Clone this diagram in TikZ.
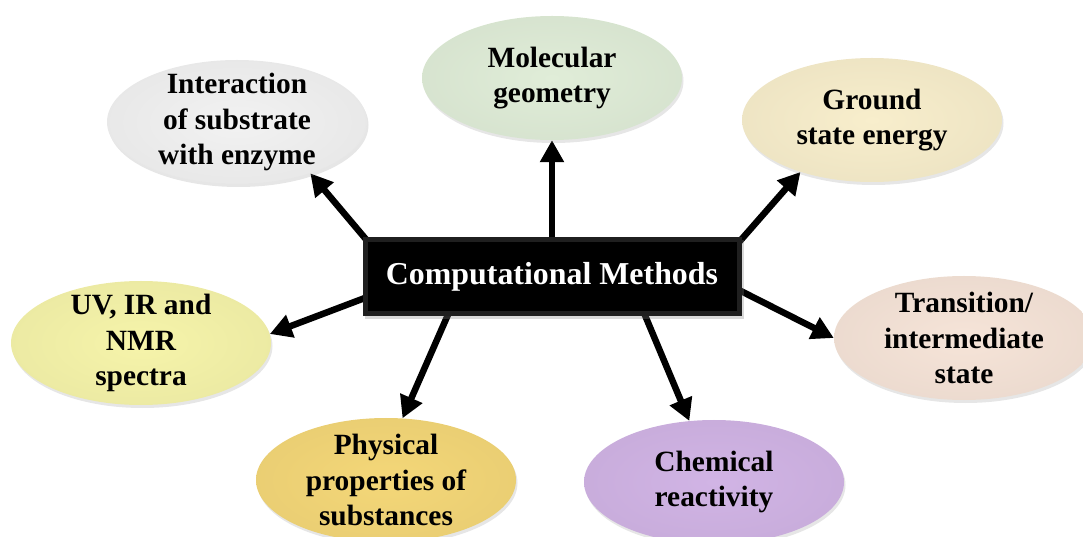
\documentclass[tikz,border=0pt]{standalone}
\usepackage{fontspec}
\setmainfont{Liberation Serif}
\usetikzlibrary{arrows.meta,shapes.geometric,shadows,calc}
\pgfdeclarelayer{bg}
\pgfsetlayers{bg,main}
\definecolor{cinter}{RGB}{242,242,242}
\definecolor{cmol}{RGB}{224,237,216}
\definecolor{cground}{RGB}{248,238,204}
\definecolor{cuv}{RGB}{246,244,170}
\definecolor{ctrans}{RGB}{246,228,216}
\definecolor{cphys}{RGB}{244,215,120}
\definecolor{cchem}{RGB}{209,180,229}
\tikzset{
  bub/.style={ellipse, minimum width=260bp, minimum height=124bp, inner sep=0pt,
    shade, inner color=#1, outer color=#1!96!black,
    drop shadow={opacity=0.2, shadow xshift=1.5bp, shadow yshift=-3bp}},
  blab/.style={font=\fontsize{29.5}{36}\selectfont\bfseries, align=center, inner sep=0pt},
  hub/.style={rectangle, fill=black!88, minimum width=379bp, minimum height=79bp,
    inner sep=0pt, text=white, font=\fontsize{32}{38}\selectfont\bfseries,
    path picture={\fill[black] ([xshift=5bp,yshift=-5bp]path picture bounding box.north west)
      rectangle ([xshift=-5bp,yshift=5bp]path picture bounding box.south east);},
    drop shadow={opacity=0.3, shadow xshift=2bp, shadow yshift=-3bp}},
  harr/.style={-{Triangle[length=22bp,width=23bp]}, line width=6.5bp, black},
}
\begin{document}
\begin{tikzpicture}[x=1bp, y=-1bp]
  \useasboundingbox (0,0) rectangle (1083,537);

  % centre box
  \node[hub] (cm) at (552,277) {Computational Methods};

  % the seven bubbles
  \node[bub=cinter] (inter) at (237,122) {};
  \node[blab] (interl) at (inter) {Interaction\\of substrate\\with enzyme};
  \node[bub=cmol] (molgeo) at (552,78) {};
  \node[blab] (molgeol) at (molgeo) {Molecular\\geometry};
  \node[bub=cground] (ground) at (872,120) {};
  \node[blab] (groundl) at (ground) {Ground\\state energy};
  \node[bub=cuv] (uvir) at (141,343) {};
  \node[blab] (uvirl) at (uvir) {UV, IR and\\NMR\\spectra};
  \node[bub=ctrans] (trans) at (964,338) {};
  \node[blab] (transl) at (trans) {Transition/\\intermediate\\state};
  \node[bub=cphys] (phys) at (386,480) {};
  \node[blab] (physl) at (phys) {Physical\\properties of\\substances};
  \node[bub=cchem] (chem) at (714,482) {};
  \node[blab] (cheml) at (chem) {Chemical\\reactivity};

  % arrows leave from under the box
  \coordinate (sinter) at (375,250);
  \coordinate (smol) at (552,250);
  \coordinate (sground) at (726,257);
  \coordinate (suv) at (378,293);
  \coordinate (strans) at (725,283);
  \coordinate (sphys) at (454,301);
  \coordinate (schem) at (639,301);
  \begin{pgfonlayer}{bg}
    \draw[harr] (sinter) -- (inter.-35);
    \draw[harr] (smol) -- (molgeo.south);
    \draw[harr] (sground) -- (ground.-144);
    \draw[harr] (suv) -- (uvir.4);
    \draw[harr] (strans) -- (trans.180);
    \draw[harr] (sphys) -- (phys.75);
    \draw[harr] (schem) -- (chem.112);
  \end{pgfonlayer}
\end{tikzpicture}
\end{document}
